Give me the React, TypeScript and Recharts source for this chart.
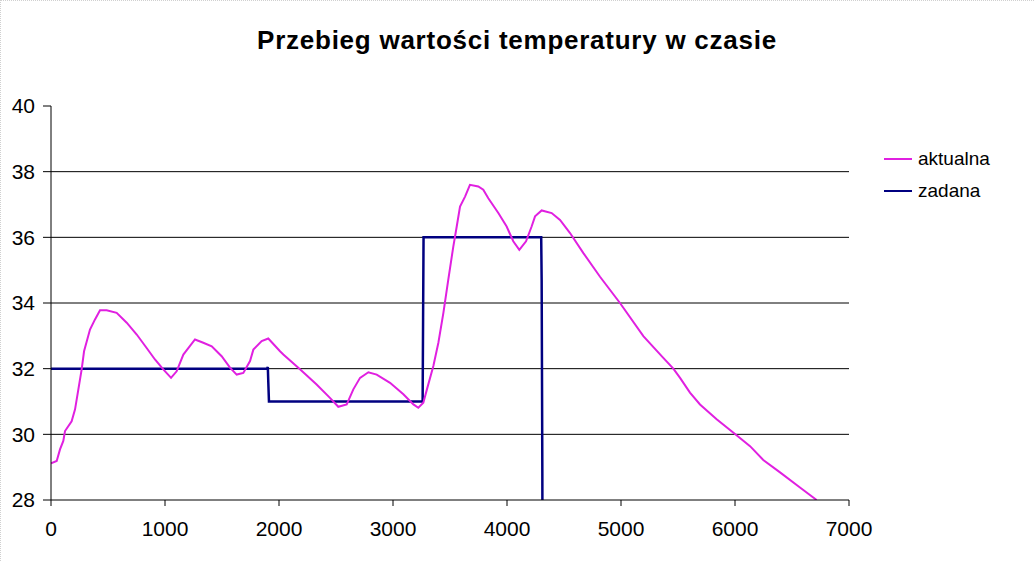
import React from 'react';
import { LineChart, Line, XAxis, YAxis, ReferenceLine } from 'recharts';

const aktualnaTime = [0, 50, 79, 108, 123, 181, 211, 240, 269, 290, 342, 386, 430, 488, 576, 664, 752, 839, 912, 985, 1053, 1102, 1161, 1263, 1336, 1410, 1497, 1570, 1629, 1687, 1746, 1775, 1848, 1906, 2009, 2038, 2184, 2330, 2447, 2520, 2594, 2652, 2711, 2784, 2857, 2974, 3091, 3179, 3222, 3266, 3300, 3354, 3398, 3442, 3485, 3529, 3559, 3588, 3632, 3675, 3748, 3792, 3836, 3924, 3997, 4055, 4108, 4167, 4216, 4246, 4304, 4392, 4465, 4553, 4670, 4816, 4991, 5196, 5371, 5459, 5518, 5605, 5693, 5839, 6003, 6132, 6248, 6395, 6570, 6716];
const aktualnaTemp = [29.12, 29.19, 29.54, 29.8, 30.1, 30.4, 30.76, 31.37, 31.98, 32.53, 33.19, 33.5, 33.78, 33.78, 33.7, 33.4, 33.04, 32.63, 32.28, 31.98, 31.72, 31.92, 32.43, 32.89, 32.79, 32.68, 32.38, 32.03, 31.82, 31.87, 32.23, 32.58, 32.84, 32.92, 32.53, 32.43, 31.98, 31.52, 31.11, 30.84, 30.91, 31.37, 31.72, 31.89, 31.82, 31.57, 31.22, 30.91, 30.81, 30.96, 31.4, 32.08, 32.79, 33.7, 34.71, 35.72, 36.33, 36.94, 37.24, 37.6, 37.55, 37.45, 37.19, 36.74, 36.33, 35.88, 35.62, 35.88, 36.33, 36.64, 36.82, 36.74, 36.53, 36.13, 35.52, 34.8, 34.0, 32.99, 32.33, 32.0, 31.72, 31.27, 30.91, 30.46, 30.0, 29.64, 29.22, 28.84, 28.38, 28.0];

const zadanaTime = [0, 1895, 1902, 1906, 1912, 3260, 3264, 3268, 4300, 4304, 4310, 4316];
const zadanaTemp = [32, 32, 32.05, 31.6, 31, 31, 33.55, 36, 36, 34.7, 28.8, 20];

const xTicks = [0, 1000, 2000, 3000, 4000, 5000, 6000, 7000];
const yTicks = [28, 30, 32, 34, 36, 38, 40];
const gridValues = [30, 32, 34, 36, 38];

const titleText = 'Przebieg wartości temperatury w czasie';
const seriesNames = ['aktualna', 'zadana'];
const seriesColors = ['#E020E0', '#000080'];

const aktualnaData = aktualnaTime.map((t, i) => ({ t, v: aktualnaTemp[i] }));
const zadanaData = zadanaTime.map((t, i) => ({ t, v: zadanaTemp[i] }));

const FONT = '"Liberation Sans", Arial, sans-serif';

const LegendBox = () => (
  <div style={{ position: 'absolute', left: 884, top: 143, fontFamily: FONT, fontSize: 19, color: '#000' }}>
    {seriesNames.map((name, i) => (
      <div key={name} style={{ display: 'flex', alignItems: 'center', height: 32 }}>
        <div style={{ width: 28, height: 0, borderTop: `${i === 0 ? 2 : 2.5}px solid ${seriesColors[i]}`, marginRight: 6 }} />
        <span>{name}</span>
      </div>
    ))}
  </div>
);

export default function App() {
  return (
    <div style={{ position: 'absolute', left: 0, top: 0, width: 1034, height: 561, background: '#fff', fontFamily: FONT }}>
      <div style={{ position: 'absolute', left: 0, top: 0, width: 1034, height: 561, borderLeft: '1px dotted #d0d0d0', borderTop: '1px dotted #d0d0d0', boxSizing: 'border-box', pointerEvents: 'none' }} />
      <div style={{ position: 'absolute', left: 0, top: 27, width: 1034, textAlign: 'center', fontSize: 26, lineHeight: '26px', letterSpacing: 0.75, fontWeight: 'bold', color: '#000' }}>
        {titleText}
      </div>
      <LegendBox />
      <LineChart width={1034} height={561} margin={{ top: 106, right: 185, bottom: 21, left: 6 }}>
        <XAxis
          type="number"
          dataKey="t"
          domain={[0, 7000]}
          ticks={xTicks}
          allowDataOverflow
          height={40}
          tickSize={6}
          tickMargin={15}
          axisLine={{ stroke: '#000', strokeWidth: 1 }}
          tickLine={{ stroke: '#000', strokeWidth: 1 }}
          tick={{ fill: '#000', fontSize: 21, fontFamily: FONT }}
        />
        <YAxis
          type="number"
          domain={[28, 40]}
          ticks={yTicks}
          allowDataOverflow
          width={45}
          tickSize={8}
          tickMargin={8}
          axisLine={{ stroke: '#000', strokeWidth: 1 }}
          tickLine={{ stroke: '#000', strokeWidth: 1 }}
          tick={{ fill: '#000', fontSize: 21, fontFamily: FONT }}
        />
        {gridValues.map((g) => (
          <ReferenceLine key={g} y={g} stroke="#000" strokeWidth={1} ifOverflow="hidden" />
        ))}
        <Line
          data={zadanaData}
          dataKey="v"
          name={seriesNames[1]}
          type="linear"
          stroke={seriesColors[1]}
          strokeWidth={2.5}
          dot={false}
          activeDot={false}
          isAnimationActive={false}
        />
        <Line
          data={aktualnaData}
          dataKey="v"
          name={seriesNames[0]}
          type="linear"
          stroke={seriesColors[0]}
          strokeWidth={2}
          dot={false}
          activeDot={false}
          isAnimationActive={false}
        />
      </LineChart>
    </div>
  );
}
